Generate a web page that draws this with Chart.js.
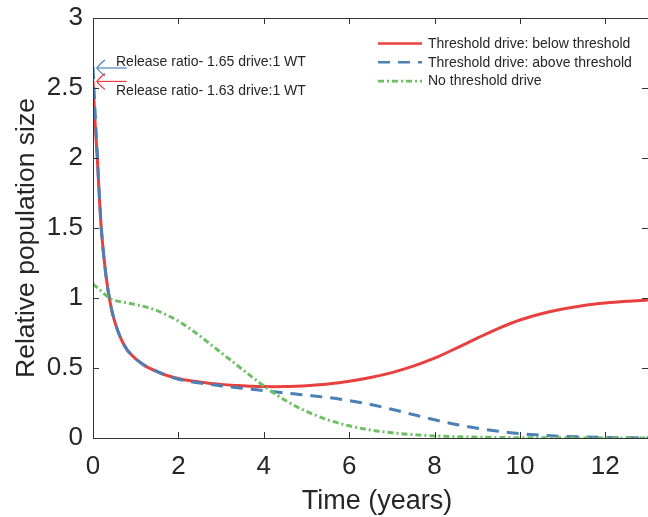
<!DOCTYPE html>
<html><head><meta charset="utf-8">
<script src="https://cdn.jsdelivr.net/npm/chart.js@4/dist/chart.umd.min.js"></script>
<style>html,body{margin:0;padding:0;background:#fff;overflow:hidden}canvas{display:block}</style>
</head><body>
<canvas id="c" width="648" height="517"></canvas>
<script>
const times = [0,0.05,0.1,0.15,0.2,0.3,0.4,0.5,0.6,0.7,0.8,0.9,1.0,1.25,1.5,1.75,2,2.25,2.5,2.75,3,3.25,3.5,3.75,4,4.25,4.5,4.75,5,5.5,6,6.5,7,7.5,8,8.5,9,9.5,10,10.5,11,11.5,12,12.5,13];
const belowThreshold = [2.55,2.25,2.0,1.71,1.47,1.17,0.97,0.84,0.75,0.68,0.63,0.595,0.565,0.51,0.475,0.445,0.425,0.41,0.40,0.39,0.383,0.377,0.373,0.369,0.367,0.366,0.367,0.37,0.374,0.386,0.405,0.432,0.467,0.513,0.57,0.64,0.713,0.783,0.843,0.888,0.922,0.947,0.964,0.976,0.985];
const aboveThreshold = [2.65,2.32,2.03,1.73,1.48,1.17,0.97,0.84,0.75,0.68,0.63,0.595,0.565,0.51,0.475,0.443,0.42,0.405,0.393,0.382,0.372,0.364,0.356,0.347,0.338,0.33,0.322,0.314,0.306,0.289,0.267,0.239,0.205,0.167,0.13,0.097,0.07,0.048,0.031,0.02,0.012,0.007,0.004,0.002,0.001];
const noThreshold = [1.1,1.087,1.074,1.06,1.047,1.02,0.995,0.983,0.976,0.97,0.965,0.959,0.953,0.935,0.91,0.875,0.835,0.785,0.73,0.67,0.61,0.55,0.49,0.43,0.372,0.318,0.27,0.227,0.19,0.13,0.087,0.057,0.037,0.024,0.015,0.009,0.006,0.004,0.002,0.001,0.001,0,0,0,0];
const xTicks = [0,2,4,6,8,10,12];
const yTicks = [0,0.5,1,1.5,2,2.5,3];
const seriesNames = ["Threshold drive: below threshold","Threshold drive: above threshold","No threshold drive"];
const annotations = ["Release ratio- 1.65 drive:1 WT","Release ratio- 1.63 drive:1 WT"];
const annotationY = [2.643, 2.547];
const xTitle = "Time (years)";
const yTitle = "Relative population size";

const RED = '#e8403f', BLUE = '#4a80b6', GREEN = '#6cc063', TXT = '#262626';
const FONT = '"Liberation Sans", Arial, Helvetica, sans-serif';
const pts = arr => times.map((t,i)=>({x:t,y:arr[i]}));

const styles = [
  {color:RED, dash:[]},
  {color:BLUE, dash:[12,8]},
  {color:GREEN, dash:[6,3,2,3]}
];

const frame = {
  id:'frame',
  afterDraw(chart){
    const ctx = chart.ctx, a = chart.chartArea, xs = chart.scales.x, ys = chart.scales.y;
    ctx.save();
    ctx.strokeStyle = '#333'; ctx.lineWidth = 1;
    ctx.beginPath();
    ctx.moveTo(a.left+0.5, a.top+0.5); ctx.lineTo(a.right, a.top+0.5);
    ctx.moveTo(a.left+0.5, a.top); ctx.lineTo(a.left+0.5, a.bottom+0.5);
    ctx.moveTo(a.left, a.bottom+0.5); ctx.lineTo(a.right, a.bottom+0.5);
    ctx.stroke();
    ctx.beginPath();
    xTicks.forEach(v=>{const px=Math.round(xs.getPixelForValue(v))+0.5;
      ctx.moveTo(px,a.bottom); ctx.lineTo(px,a.bottom-6);
      ctx.moveTo(px,a.top); ctx.lineTo(px,a.top+6);});
    yTicks.forEach(v=>{const py=Math.round(ys.getPixelForValue(v))+0.5;
      ctx.moveTo(a.left,py); ctx.lineTo(a.left+6,py);
      ctx.moveTo(a.right,py); ctx.lineTo(a.right-6,py);});
    ctx.stroke();
    // axis titles
    ctx.fillStyle = TXT; ctx.textAlign = 'center'; ctx.textBaseline = 'alphabetic';
    ctx.font = '27px ' + FONT;
    ctx.fillText(xTitle, 377, 509);
    ctx.save();
    ctx.translate(34, 238); ctx.rotate(-Math.PI/2);
    ctx.font = '26.5px ' + FONT;
    ctx.fillText(yTitle, 0, 0);
    ctx.restore();
    // legend
    ctx.font = '14px ' + FONT; ctx.fillStyle = TXT; ctx.textBaseline='middle'; ctx.textAlign='left';
    seriesNames.forEach((n,i)=>{
      const y = 43.5 + i*18.8;
      ctx.strokeStyle = styles[i].color; ctx.lineWidth = 2.6; ctx.setLineDash(styles[i].dash);
      ctx.beginPath(); ctx.moveTo(378,y); ctx.lineTo(422,y); ctx.stroke();
      ctx.setLineDash([]);
      ctx.fillText(n, 428, y+0.5);
    });
    // annotations with arrows
    const arrowCols = [BLUE, RED];
    ctx.textBaseline = 'alphabetic';
    annotations.forEach((txt,i)=>{
      const ty = ys.getPixelForValue(annotationY[i]);
      const tip = xs.getPixelForValue(0.09);
      const end = xs.getPixelForValue(0.79);
      ctx.strokeStyle = arrowCols[i]; ctx.lineWidth = 1.2;
      ctx.beginPath(); ctx.moveTo(tip,ty); ctx.lineTo(end,ty); ctx.stroke();
      ctx.beginPath();
      ctx.moveTo(tip+8,ty-8); ctx.quadraticCurveTo(tip+2,ty-3,tip,ty);
      ctx.quadraticCurveTo(tip+2,ty+3,tip+8,ty+8); ctx.stroke();
      ctx.fillStyle = TXT;
      ctx.fillText(txt, 116, i===0 ? ty-1.5 : ty+13.3);
    });
    ctx.restore();
  }
};

new Chart(document.getElementById('c'), {
  type:'line',
  data:{datasets:[
    {label:seriesNames[0], data:pts(belowThreshold), borderColor:RED, borderWidth:3, borderDash:styles[0].dash, order:2},
    {label:seriesNames[1], data:pts(aboveThreshold), borderColor:BLUE, borderWidth:3, borderDash:styles[1].dash, order:1},
    {label:seriesNames[2], data:pts(noThreshold), borderColor:GREEN, borderWidth:3, borderDash:styles[2].dash, order:0}
  ]},
  options:{
    responsive:false, animation:false, events:[],
    elements:{point:{radius:0}, line:{cubicInterpolationMode:'monotone', fill:false}},
    layout:{padding:{top:18, right:0, left:0, bottom:0}},
    plugins:{legend:{display:false}, tooltip:{enabled:false}},
    scales:{
      x:{type:'linear', min:0, max:13,
        afterFit(s){s.height = 79; s.paddingLeft = 0; s.paddingRight = 0;},
        afterBuildTicks(s){s.ticks = xTicks.map(v=>({value:v}));},
        grid:{display:false, drawTicks:false}, border:{display:false},
        ticks:{color:TXT, font:{family:FONT, size:26}, padding:13, maxRotation:0, autoSkip:false, callback:v=>String(v)},
        title:{display:false}
      },
      y:{type:'linear', min:0, max:3,
        afterFit(s){s.width = 93; s.paddingTop = 0; s.paddingBottom = 0;},
        afterBuildTicks(s){s.ticks = yTicks.map(v=>({value:v}));},
        grid:{display:false, drawTicks:false}, border:{display:false},
        ticks:{color:TXT, font:{family:FONT, size:26}, padding:10, autoSkip:false, callback:v=>String(v)},
        title:{display:false}
      }
    }
  },
  plugins:[frame]
});
</script>
</body></html>
